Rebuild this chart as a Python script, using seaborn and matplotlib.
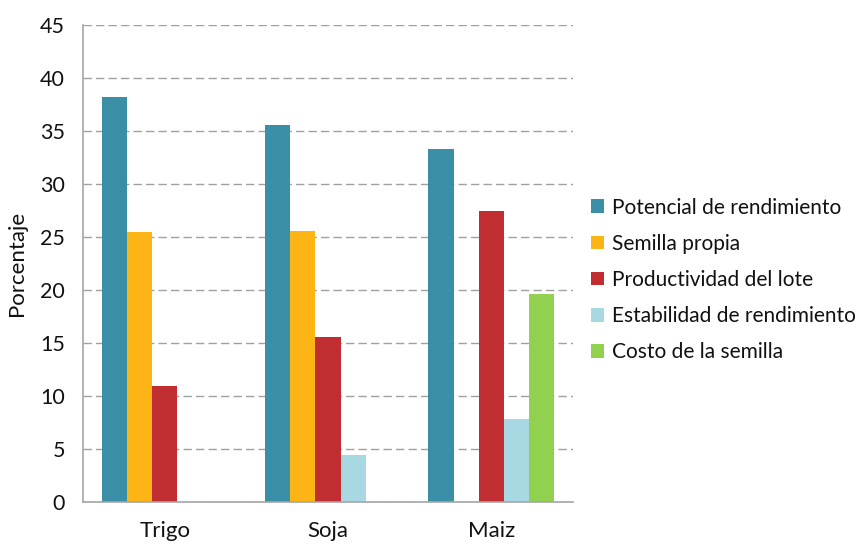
import numpy as np
import pandas as pd
import matplotlib
matplotlib.use("Agg")
import matplotlib.pyplot as plt
import seaborn as sns

categories = ["Trigo", "Soja", "Maiz"]
series = ["Potencial de rendimiento", "Semilla propia", "Productividad del lote",
          "Estabilidad de rendimiento", "Costo de la semilla"]
potencial = [38.2, 35.6, 33.3]
semilla = [25.5, 25.6, np.nan]
productividad = [10.9, 15.6, 27.5]
estabilidad = [np.nan, 4.4, 7.8]
costo = [np.nan, np.nan, 19.6]
colors = ["#3A8FA7", "#FDB515", "#C12E31", "#A8D8E2", "#92D050"]
yticks = [0, 5, 10, 15, 20, 25, 30, 35, 40, 45]

values = [potencial, semilla, productividad, estabilidad, costo]
rows = []
for s, vals in zip(series, values):
    for c, v in zip(categories, vals):
        rows.append({"Cultivo": c, "Serie": s, "Porcentaje": v})
df = pd.DataFrame(rows)

sns.set_theme(style="white")
plt.rcParams["font.family"] = ["Lato", "DejaVu Sans"]
plt.rcParams["text.color"] = "#111111"
plt.rcParams["axes.labelcolor"] = "#111111"
plt.rcParams["xtick.labelcolor"] = "#111111"
plt.rcParams["ytick.labelcolor"] = "#111111"

fig = plt.figure(figsize=(8.68, 5.45), dpi=100)
ax = fig.add_axes([83 / 868, 1 - 502 / 545, (573 - 83) / 868, (502 - 25) / 545])

sns.barplot(data=df, x="Cultivo", y="Porcentaje", hue="Serie", order=categories,
            hue_order=series, palette=colors, width=0.77, ax=ax, errorbar=None,
            saturation=1, linewidth=0)

ax.set_ylim(0, 45)
ax.set_yticks(yticks)
ax.set_yticklabels([str(t) for t in yticks], fontsize=15.5)
ax.set_xlim(-0.5, 2.5)
ax.tick_params(axis="x", length=0, labelsize=16, pad=14)
ax.tick_params(axis="y", length=7, width=1, color="#A6A6A6", pad=6)
ax.set_xlabel("")
ax.set_ylabel("Porcentaje", fontsize=16, labelpad=9)
ax.yaxis.grid(True, linestyle=(0, (6, 3)), color="#A0A0A0", linewidth=1)
ax.set_axisbelow(True)
for side in ["top", "right"]:
    ax.spines[side].set_visible(False)
for side in ["left", "bottom"]:
    ax.spines[side].set_color("#A6A6A6")
    ax.spines[side].set_linewidth(1.2)

leg = ax.legend(loc="center left", frameon=False, fontsize=15,
                handlelength=0.62, handleheight=0.62, handletextpad=0.38,
                labelspacing=0.78, borderpad=0, borderaxespad=0)
leg.set_bbox_to_anchor((591 / 868, 1 - 280 / 545), transform=fig.transFigure)

fig.savefig("out.png", dpi=100)
